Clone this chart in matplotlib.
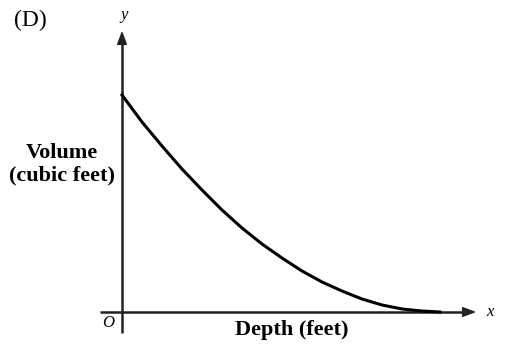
import numpy as np
import matplotlib.pyplot as plt

# curve (pixel units relative to the origin)
depth = [0, 20, 40, 60, 80, 100, 120, 140, 160, 180, 200, 220, 240, 260, 280, 300, 318]
volume = [217, 190, 166, 143, 122, 102, 84, 68, 54, 41, 30, 21, 13, 7, 3, 1, 0]

fig = plt.figure(figsize=(5.14, 3.59), dpi=100)
ax = fig.add_axes([0, 0, 1, 1])
ax.set_xlim(-122, 392)
ax.set_ylim(-47, 312)
ax.set_axis_off()

serif = ['Liberation Serif', 'DejaVu Serif']

# axes with arrows
ax.plot([-22, 348], [0, 0], color='#222222', lw=1.8, solid_capstyle='butt')
ax.annotate('', xy=(357, 0), xytext=(340, 0),
            arrowprops=dict(arrowstyle='-|>,head_length=0.8,head_width=0.3',
                            color='#222222', lw=1.2))
ax.plot([0, 0], [-21, 272], color='#222222', lw=1.8, solid_capstyle='butt')
ax.annotate('', xy=(0, 284), xytext=(0, 265),
            arrowprops=dict(arrowstyle='-|>,head_length=0.8,head_width=0.3',
                            color='#222222', lw=1.2))

ax.plot(depth, volume, color='black', lw=2.2)

ax.text(-92, 292, '(D)', family=serif, fontsize=17, ha='center', va='center')
ax.text(2, 297, 'y', family=serif, style='italic', fontsize=12, ha='center', va='center')
ax.text(368, 0, 'x', family=serif, style='italic', fontsize=12, ha='center', va='center')
ax.text(-14, -11, 'O', family=serif, style='italic', fontsize=12, ha='center', va='center')
ax.text(-60, 148, 'Volume\n(cubic feet)', family=serif, weight='bold', fontsize=16,
        ha='center', va='center', linespacing=1.2)
ax.text(170, -18, 'Depth (feet)', family=serif, weight='bold', fontsize=16,
        ha='center', va='center')

fig.savefig('out.png', dpi=100)
